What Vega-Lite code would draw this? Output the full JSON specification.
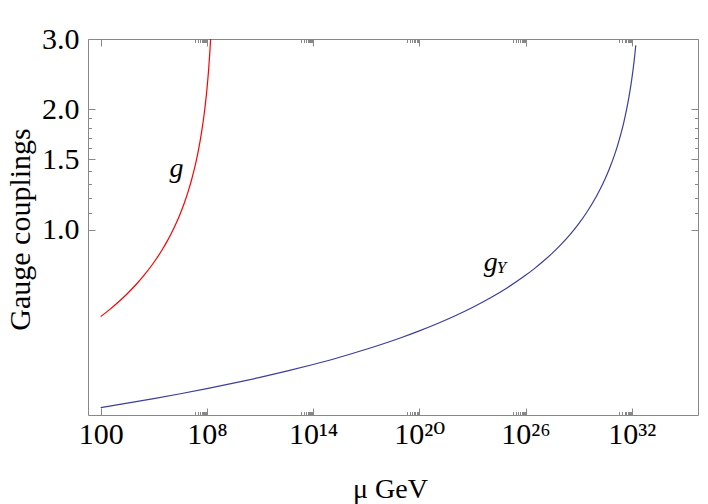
{
  "$schema": "https://vega.github.io/schema/vega-lite/v6.json",
  "width": 610,
  "height": 376,
  "autosize": {"type": "none"},
  "padding": {"left": 88, "top": 39, "right": 10, "bottom": 89},
  "background": "white",
  "config": {
    "view": {"stroke": null},
    "font": "Liberation Serif",
    "axis": {
      "domainColor": "#888888",
      "tickColor": "#888888",
      "domainWidth": 1,
      "tickWidth": 1,
      "labelColor": "black",
      "labelFont": "Liberation Serif, DejaVu Serif",
      "labelFontSize": 30,
      "titleFont": "Liberation Serif",
      "titleFontWeight": "normal",
      "titleColor": "black",
      "grid": false,
      "labelOverlap": false,
      "labelFlush": false,
      "labelBound": false
    }
  },
  "datasets": {
    "curves": [
      {"series": "g", "mu": 100, "coupling": 0.6071},
      {"series": "g", "mu": 316.2, "coupling": 0.632},
      {"series": "g", "mu": 1000, "coupling": 0.6602},
      {"series": "g", "mu": 3162, "coupling": 0.6926},
      {"series": "g", "mu": 10000, "coupling": 0.7303},
      {"series": "g", "mu": 31620, "coupling": 0.7749},
      {"series": "g", "mu": 100000, "coupling": 0.8288},
      {"series": "g", "mu": 316200, "coupling": 0.8957},
      {"series": "g", "mu": 562300, "coupling": 0.9359},
      {"series": "g", "mu": 1000000, "coupling": 0.982},
      {"series": "g", "mu": 1778000, "coupling": 1.0357},
      {"series": "g", "mu": 3162000, "coupling": 1.0993},
      {"series": "g", "mu": 5623000, "coupling": 1.1762},
      {"series": "g", "mu": 10000000, "coupling": 1.2721},
      {"series": "g", "mu": 14130000, "coupling": 1.3421},
      {"series": "g", "mu": 17780000, "coupling": 1.3958},
      {"series": "g", "mu": 25120000, "coupling": 1.4901},
      {"series": "g", "mu": 31620000, "coupling": 1.5645},
      {"series": "g", "mu": 39810000, "coupling": 1.6515},
      {"series": "g", "mu": 50120000, "coupling": 1.7549},
      {"series": "g", "mu": 70790000, "coupling": 1.954},
      {"series": "g", "mu": 89130000, "coupling": 2.132},
      {"series": "g", "mu": 100000000, "coupling": 2.2416},
      {"series": "g", "mu": 112200000, "coupling": 2.3697},
      {"series": "g", "mu": 125900000, "coupling": 2.5229},
      {"series": "g", "mu": 144500000, "coupling": 2.7525},
      {"series": "g", "mu": 162200000, "coupling": 3.0},
      {"series": "gY", "mu": 100, "coupling": 0.3597},
      {"series": "gY", "mu": 3162, "coupling": 0.3688},
      {"series": "gY", "mu": 1e5, "coupling": 0.3787},
      {"series": "gY", "mu": 3.162e6, "coupling": 0.3894},
      {"series": "gY", "mu": 1e8, "coupling": 0.401},
      {"series": "gY", "mu": 3.162e9, "coupling": 0.4138},
      {"series": "gY", "mu": 1e11, "coupling": 0.4278},
      {"series": "gY", "mu": 3.162e12, "coupling": 0.4434},
      {"series": "gY", "mu": 1e14, "coupling": 0.4609},
      {"series": "gY", "mu": 3.162e15, "coupling": 0.4805},
      {"series": "gY", "mu": 1e17, "coupling": 0.503},
      {"series": "gY", "mu": 1e19, "coupling": 0.5384},
      {"series": "gY", "mu": 1e20, "coupling": 0.5592},
      {"series": "gY", "mu": 1e21, "coupling": 0.5826},
      {"series": "gY", "mu": 1e22, "coupling": 0.6092},
      {"series": "gY", "mu": 1e23, "coupling": 0.6398},
      {"series": "gY", "mu": 1e24, "coupling": 0.6756},
      {"series": "gY", "mu": 1e25, "coupling": 0.7181},
      {"series": "gY", "mu": 1e26, "coupling": 0.7698},
      {"series": "gY", "mu": 3.162e26, "coupling": 0.8002},
      {"series": "gY", "mu": 1e27, "coupling": 0.8345},
      {"series": "gY", "mu": 3.162e27, "coupling": 0.8737},
      {"series": "gY", "mu": 1e28, "coupling": 0.9189},
      {"series": "gY", "mu": 3.162e28, "coupling": 0.972},
      {"series": "gY", "mu": 1e29, "coupling": 1.0355},
      {"series": "gY", "mu": 3.162e29, "coupling": 1.1134},
      {"series": "gY", "mu": 1e30, "coupling": 1.212},
      {"series": "gY", "mu": 1.778e30, "coupling": 1.2721},
      {"series": "gY", "mu": 3.162e30, "coupling": 1.3423},
      {"series": "gY", "mu": 5.623e30, "coupling": 1.4255},
      {"series": "gY", "mu": 1e31, "coupling": 1.5266},
      {"series": "gY", "mu": 1.585e31, "coupling": 1.6247},
      {"series": "gY", "mu": 2.512e31, "coupling": 1.7448},
      {"series": "gY", "mu": 3.548e31, "coupling": 1.8547},
      {"series": "gY", "mu": 5.012e31, "coupling": 1.9881},
      {"series": "gY", "mu": 7.079e31, "coupling": 2.1556},
      {"series": "gY", "mu": 1e32, "coupling": 2.3741},
      {"series": "gY", "mu": 1.175e32, "coupling": 2.5013},
      {"series": "gY", "mu": 1.35e32, "coupling": 2.629},
      {"series": "gY", "mu": 1.514e32, "coupling": 2.751},
      {"series": "gY", "mu": 1.698e32, "coupling": 2.8918}
    ],
    "labels": [
      {"main": "g", "sub": "", "mu": 1900000, "coupling": 1.357},
      {"main": "g", "sub": "Y", "mu": 1.1e24, "coupling": 0.7873}
    ]
  },
  "layer": [
    {
      "data": {"name": "curves"},
      "mark": {"type": "line", "strokeWidth": 1.2, "clip": true, "interpolate": "monotone"},
      "encoding": {
        "x": {
          "field": "mu", "type": "quantitative",
          "scale": {"type": "log", "domain": [19.19, 5.56e35], "nice": false},
          "axis": {
            "orient": "bottom",
            "title": "μ GeV",
            "titleFontSize": 28,
            "titleAnchor": "middle",
            "titleBaseline": "alphabetic",
            "titleX": 302,
            "titleY": 82,
            "values": [100, 2e7, 3e7, 4e7, 5e7, 6e7, 7e7, 8e7, 9e7, 1e8, 2e13, 3e13, 4e13, 5e13, 6e13, 7e13, 8e13, 9e13, 1e14, 2e19, 3e19, 4e19, 5e19, 6e19, 7e19, 8e19, 9e19, 1e20, 2e25, 3e25, 4e25, 5e25, 6e25, 7e25, 8e25, 9e25, 1e26, 2e31, 3e31, 4e31, 5e31, 6e31, 7e31, 8e31, 9e31, 1e32],
            "tickSize": {"condition": {"test": "indexof([100, 1e8, 1e14, 1e20, 1e26, 1e32], datum.value) >= 0", "value": -7}, "value": -3.5},
            "labelExpr": "datum.value == 100 ? '100' : datum.value == 1e8 ? '10⁸' : datum.value == 1e14 ? '10¹⁴' : datum.value == 1e20 ? '10²⁰' : datum.value == 1e26 ? '10²⁶' : datum.value == 1e32 ? '10³²' : ''",
            "labelPadding": 11,
            "labelBaseline": "top"
          }
        },
        "y": {
          "field": "coupling", "type": "quantitative",
          "scale": {"type": "log", "domain": [0.3446, 3.0], "nice": false, "zero": false},
          "axis": {
            "orient": "left",
            "title": "Gauge couplings",
            "titleFontSize": 30,
            "titleAngle": 270,
            "titleAnchor": "middle",
            "titleBaseline": "alphabetic",
            "titleX": -59,
            "titleY": 190,
            "values": [1, 1.1, 1.2, 1.3, 1.4, 1.5, 1.6, 1.7, 1.8, 1.9, 2, 3],
            "tickSize": {"condition": {"test": "indexof([1, 1.5, 2, 3], datum.value) >= 0", "value": -7}, "value": -3.5},
            "labelExpr": "indexof([1, 1.5, 2, 3], datum.value) >= 0 ? format(datum.value, '.1f') : ''",
            "labelPadding": 16,
            "labelBaseline": "middle"
          }
        },
        "color": {
          "field": "series", "type": "nominal",
          "scale": {"domain": ["g", "gY"], "range": ["#ff0000", "#3d3d9c"]},
          "legend": null
        }
      }
    },
    {
      "data": {"name": "labels"},
      "mark": {"type": "text", "font": "Liberation Serif", "fontStyle": "italic", "fontSize": 28, "align": "center", "baseline": "alphabetic", "color": "black"},
      "encoding": {
        "text": {"field": "main"},
        "x": {
          "field": "mu", "type": "quantitative",
          "axis": {
            "orient": "top",
            "title": null,
            "labels": false,
            "values": [100, 2e7, 3e7, 4e7, 5e7, 6e7, 7e7, 8e7, 9e7, 1e8, 2e13, 3e13, 4e13, 5e13, 6e13, 7e13, 8e13, 9e13, 1e14, 2e19, 3e19, 4e19, 5e19, 6e19, 7e19, 8e19, 9e19, 1e20, 2e25, 3e25, 4e25, 5e25, 6e25, 7e25, 8e25, 9e25, 1e26, 2e31, 3e31, 4e31, 5e31, 6e31, 7e31, 8e31, 9e31, 1e32],
            "tickSize": {"condition": {"test": "indexof([100, 1e8, 1e14, 1e20, 1e26, 1e32], datum.value) >= 0", "value": -7}, "value": -3.5}
          }
        },
        "y": {
          "field": "coupling", "type": "quantitative",
          "axis": {
            "orient": "right",
            "title": null,
            "labels": false,
            "values": [1, 1.1, 1.2, 1.3, 1.4, 1.5, 1.6, 1.7, 1.8, 1.9, 2, 3],
            "tickSize": {"condition": {"test": "indexof([1, 1.5, 2, 3], datum.value) >= 0", "value": -7}, "value": -3.5}
          }
        }
      }
    },
    {
      "data": {"name": "labels"},
      "mark": {"type": "text", "font": "Liberation Serif", "fontStyle": "italic", "fontSize": 17, "align": "left", "baseline": "alphabetic", "dx": 6, "dy": 2, "color": "black"},
      "encoding": {
        "text": {"field": "sub"},
        "x": {"field": "mu", "type": "quantitative", "axis": null},
        "y": {"field": "coupling", "type": "quantitative", "axis": null}
      }
    }
  ],
  "resolve": {"axis": {"x": "independent", "y": "independent"}}
}
